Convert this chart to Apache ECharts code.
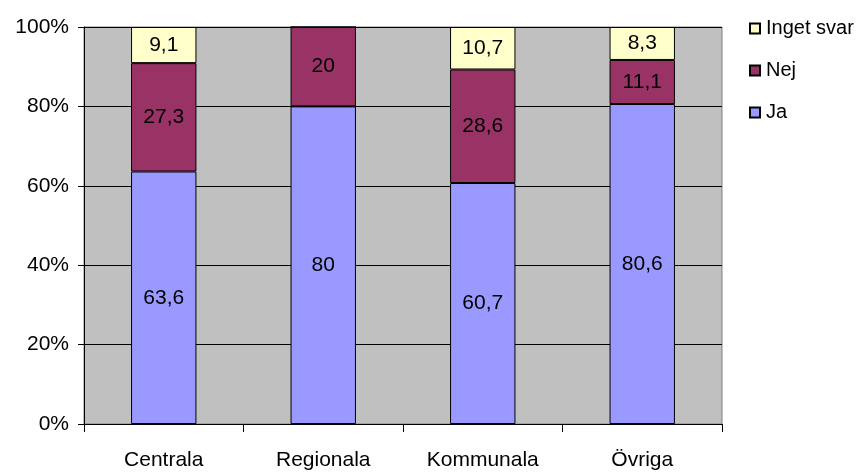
<!DOCTYPE html>
<html>
<head>
<meta charset="utf-8">
<script src="https://cdn.jsdelivr.net/npm/echarts@6/dist/echarts.min.js"></script>
<style>
  html, body { margin: 0; padding: 0; background: #fff; }
  #chart { width: 864px; height: 475px; }
</style>
</head>
<body>
<div id="chart"></div>
<script>
// kategorier och värden (procent)
var categories = ["Centrala", "Regionala", "Kommunala", "Övriga"];
var jaValues = [63.6, 80, 60.7, 80.6];
var nejValues = [27.3, 20, 28.6, 11.1];
var ingetValues = [9.1, 0, 10.7, 8.3];
var yTicks = [0, 20, 40, 60, 80, 100];

var fontName = "Liberation Sans, Arial, sans-serif";

// etikett med decimalkomma, dölj nollor
function labelFormatter(p) {
  if (!p.value) return "";
  return String(p.value).replace(".", ",");
}

function makeSeries(name, data, color) {
  return {
    name: name,
    type: "bar",
    stack: "total",
    barWidth: "41%",
    data: data,
    itemStyle: {
      color: color,
      borderColor: "#000",
      borderWidth: 1,
    },
    label: {
      show: true,
      position: "inside",
      color: "#000",
      fontSize: 21,
      fontFamily: fontName,
      formatter: labelFormatter,
    },
    emphasis: { disabled: true },
  };
}

window.onload = function () {
  var chart = echarts.init(document.getElementById("chart"));
  var option = {
    animation: false,
    textStyle: { fontFamily: fontName },
    grid: {
      left: 84,
      right: 142,
      top: 27,
      bottom: 51,
      show: true,
      backgroundColor: "#C0C0C0",
      borderColor: "#808080",
      borderWidth: 1,
    },
    legend: {
      orient: "vertical",
      left: 744,
      top: 13,
      itemWidth: 10,
      itemHeight: 10,
      itemGap: 21,
      icon: "rect",
      data: ["Inget svar", "Nej", "Ja"],
      textStyle: {
        color: "#000",
        fontSize: 20,
        lineHeight: 21,
        fontFamily: fontName,
        padding: [0, 0, 0, 1],
      },
    },
    xAxis: {
      type: "category",
      data: categories,
      boundaryGap: true,
      axisLine: { show: true, lineStyle: { color: "#000", width: 1 } },
      axisTick: {
        show: true,
        alignWithLabel: false,
        length: 8,
        lineStyle: { color: "#000" },
      },
      axisLabel: {
        color: "#000",
        fontSize: 21,
        margin: 26,
        fontFamily: fontName,
      },
    },
    yAxis: {
      type: "value",
      min: yTicks[0],
      max: yTicks[yTicks.length - 1],
      interval: 20,
      axisLine: { show: true, lineStyle: { color: "#000", width: 1 } },
      axisTick: { show: true, length: 6, lineStyle: { color: "#000" } },
      splitLine: { show: true, lineStyle: { color: "#000", width: 1 } },
      axisLabel: {
        color: "#000",
        fontSize: 21,
        margin: 15,
        fontFamily: fontName,
        formatter: "{value}%",
      },
    },
    series: [
      makeSeries("Ja", jaValues, "#9999FF"),
      makeSeries("Nej", nejValues, "#993366"),
      makeSeries("Inget svar", ingetValues, "#FFFFCC"),
    ],
  };
  chart.setOption(option);
};
</script>
</body>
</html>
